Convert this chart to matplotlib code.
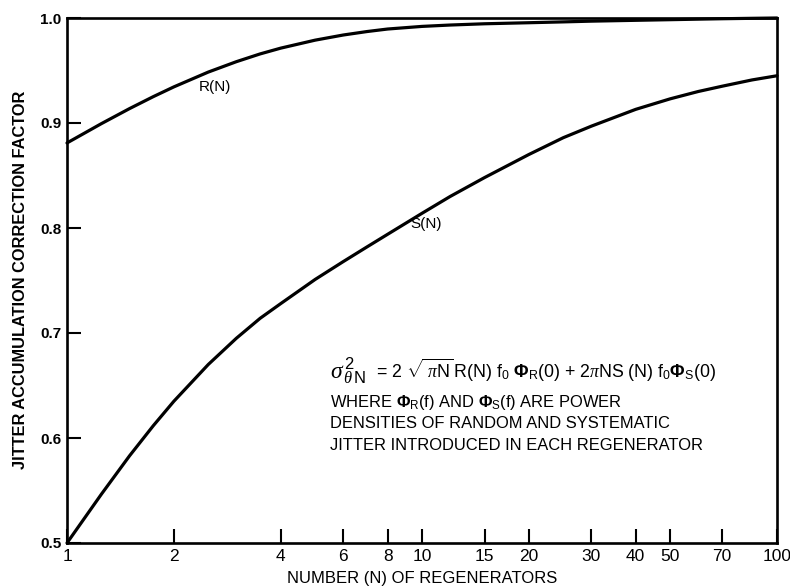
import matplotlib
matplotlib.use("Agg")
import matplotlib.pyplot as plt
from matplotlib.ticker import NullLocator, FixedLocator

plt.rcParams['font.family'] = ['Liberation Sans', 'DejaVu Sans']
plt.rcParams['mathtext.fontset'] = 'custom'
plt.rcParams['mathtext.rm'] = 'Liberation Sans'
plt.rcParams['mathtext.it'] = 'Liberation Serif:italic'
plt.rcParams['mathtext.bf'] = 'Liberation Sans:bold'

# ---- data ----
N_values = [1, 1.25, 1.5, 1.75, 2, 2.5, 3, 3.5, 4, 5, 6, 7, 8, 10, 12, 15,
            20, 25, 30, 40, 50, 60, 70, 85, 100]
R_values = [0.881, 0.8994, 0.9137, 0.9251, 0.9344, 0.9485, 0.9584, 0.9658,
            0.9713, 0.9789, 0.9838, 0.9871, 0.9895, 0.9920, 0.9933, 0.9945,
            0.9955, 0.9963, 0.9970, 0.9978, 0.9984, 0.9989, 0.9993, 0.9997,
            1.0000]
S_values = [0.500, 0.5465, 0.583, 0.6117, 0.635, 0.670, 0.695, 0.714, 0.728,
            0.751, 0.768, 0.782, 0.794, 0.814, 0.830, 0.848, 0.870, 0.886,
            0.897, 0.913, 0.923, 0.930, 0.935, 0.941, 0.945]
x_ticks = [1, 2, 4, 6, 8, 10, 15, 20, 30, 40, 50, 70, 100]
x_tick_labels = ['1', '2', '4', '6', '8', '10', '15', '20', '30', '40', '50', '70', '100']
y_ticks = [0.5, 0.6, 0.7, 0.8, 0.9, 1.0]
y_tick_labels = ['0.5', '0.6', '0.7', '0.8', '0.9', '1.0']

x_title = 'NUMBER (N) OF REGENERATORS'
y_title = 'JITTER ACCUMULATION CORRECTION FACTOR'
formula_lhs = r'$\sigma^{\,2}_{\,\theta\,\mathrm{N}}$'
formula_rhs = (r'= 2 $\sqrt{\;\pi \mathrm{N}}\,$R(N) f$_0$ '
               r'$\mathbf{\Phi}_\mathrm{R}$(0) + 2$\pi$NS (N) f$_0\mathbf{\Phi}_\mathrm{S}$(0)')
note_lines = [r'WHERE $\mathbf{\Phi}_\mathrm{R}$(f) AND $\mathbf{\Phi}_\mathrm{S}$(f) ARE POWER',
              'DENSITIES OF RANDOM AND SYSTEMATIC',
              'JITTER INTRODUCED IN EACH REGENERATOR']

W, H = 790, 588
fig = plt.figure(figsize=(W / 100, H / 100), dpi=100)
ax = fig.add_axes([67 / W, 1 - 543 / H, 710 / W, 525 / H])

ax.plot(N_values, R_values, color='black', lw=2.3, solid_capstyle='round', clip_on=False)
ax.plot(N_values, S_values, color='black', lw=2.3, solid_capstyle='round', clip_on=False)

ax.set_xscale('log')
ax.set_xlim(1, 100)
ax.set_ylim(0.5, 1.0)

ax.xaxis.set_major_locator(FixedLocator(x_ticks))
ax.xaxis.set_minor_locator(NullLocator())
ax.set_xticklabels(x_tick_labels, family=['Liberation Sans Narrow', 'Liberation Sans'],
                   fontsize=12.5)
ax.set_yticks(y_ticks)
ax.set_yticklabels(y_tick_labels, fontweight='bold', fontsize=11)

ax.tick_params(axis='both', direction='in', length=10, width=1.5, color='black')
ax.tick_params(axis='x', pad=4)
ax.tick_params(axis='y', pad=4)

for sp in ax.spines.values():
    sp.set_linewidth(1.9)

ax.text(2.61, 0.934, 'R(N)', fontsize=11, ha='center', va='center')
ax.text(10.3, 0.804, 'S(N)', fontsize=11, ha='center', va='center')

tx = 0.370
ax.text(tx, 0.314, formula_lhs, transform=ax.transAxes, fontsize=17, va='baseline')
ax.text((376 - 67) / 710, 0.314, formula_rhs, transform=ax.transAxes, fontsize=12.8,
        va='baseline')
for yy, line in zip([0.259, 0.219, 0.177], note_lines):
    ax.text(tx, yy, line, transform=ax.transAxes, fontsize=11.9, va='baseline')

fig.text(21 / W, 1 - 280 / H, y_title, rotation=90, ha='center', va='center',
         fontsize=11.8, fontweight='bold')
fig.text(422 / W, 1 - 578 / H, x_title, ha='center', va='center', fontsize=12,
         family=['Liberation Sans Narrow', 'Liberation Sans'])

fig.savefig('out.png', dpi=100, facecolor='white')
